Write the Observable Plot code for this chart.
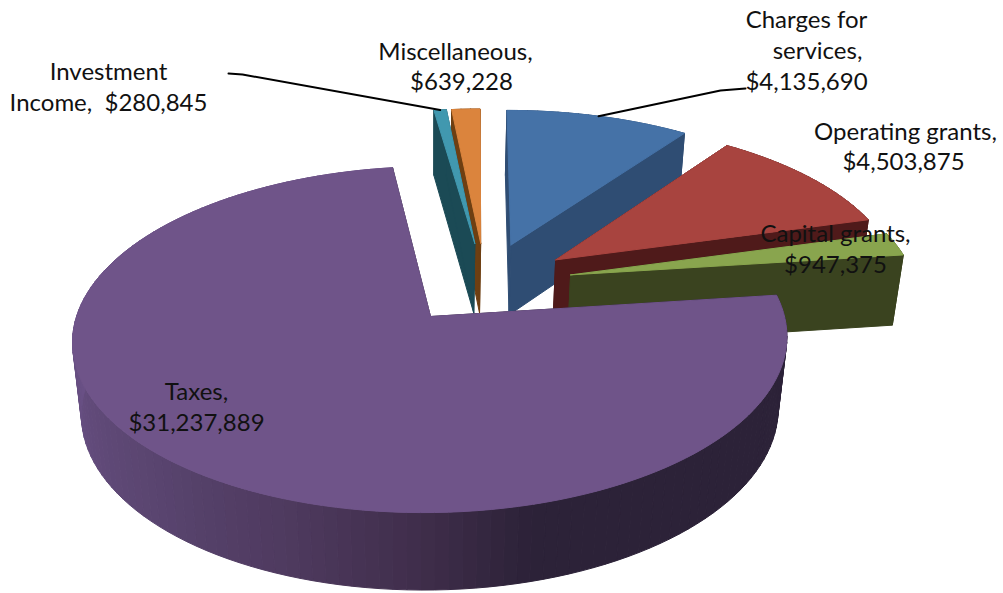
<!DOCTYPE html>
<html>
<head>
<meta charset="utf-8">
<script src="https://cdn.jsdelivr.net/npm/d3@7"></script>
<script src="https://cdn.jsdelivr.net/npm/@observablehq/plot@0.6"></script>
<style>html,body{margin:0;padding:0;background:#fff}svg{display:block}</style>
</head>
<body>
<div id="chart"></div>
<script>
// Chart data, clockwise from twelve o'clock
const categories = ["Charges for services", "Operating grants", "Capital grants", "Taxes", "Investment Income", "Miscellaneous"];
const amounts = [4135690, 4503875, 947375, 31237889, 280845, 639228];
const topColors = ["#4572A7", "#A8443F", "#89A54E", "#6F5489", "#4198AF", "#DB843D"];
const wallColors = ["#2F4D73", "#4F1A1A", "#3A431F", "#2C2238", "#1B4A55", "#6E3F12"];
const drawOrder = ["Miscellaneous", "Investment Income", "Charges for services", "Operating grants", "Capital grants", "Taxes"];

// Label text and placement
const labelLines = [
  ["Charges for", 806, 20], ["services,", 817, 51], ["$4,135,690", 806, 82],
  ["Operating grants,", 905, 132], ["$4,503,875", 903, 162],
  ["Capital grants,", 835, 234], ["$947,375", 835, 265],
  ["Taxes,", 196, 392], ["$31,237,889", 196, 423],
  ["Investment", 108, 72], ["Income,  $280,845", 108, 103],
  ["Miscellaneous,", 455, 52], ["$639,228", 461, 82]
];
const leaderEnds = {
  "Charges for services": [[720, 90], [745, 88]],
  "Investment Income": [[242, 74], [228, 73]]
};

// Perspective view of the pie plane
const view = {x0: 430, y0: 316, a: 354, b: 170, skew: 6, k: 0.133, depthK: 0.025, drop: 74};
const explode = 0.255;
const taxesMid = 217.4 * Math.PI / 180;
const hub = [-explode * Math.sin(taxesMid), -explode * Math.cos(taxesMid)];

function project(x, z, level) {
  const w = 1 + view.k * z + view.depthK * level;
  return {
    x: view.x0 + (view.a * x + view.skew * z) / w,
    y: view.y0 + (-view.b * z + view.drop * level) / w
  };
}

const arcs = d3.pie().sort(null).value(d => d)(amounts);
const slices = categories.map((name, i) => {
  const a0 = arcs[i].startAngle, a1 = arcs[i].endAngle, mid = (a0 + a1) / 2;
  return {
    name, a0, a1, mid,
    top: topColors[i], wall: wallColors[i],
    ax: hub[0] + explode * Math.sin(mid),
    az: hub[1] + explode * Math.cos(mid)
  };
});

const sideShade = d3.scaleLinear()
  .domain([60, 165, 180, 200, 225, 270, 360])
  .range(["#2C2238", "#2C2238", "#3F2D4A", "#4E3A5F", "#5A4570", "#6A5186", "#6A5186"])
  .interpolate(d3.interpolateRgb);

function rim(s, theta, level) {
  return project(s.ax + Math.sin(theta), s.az + Math.cos(theta), level);
}

const rows = [];
let nextId = 0;
function face(points, color) {
  const id = nextId++;
  [...points, points[0]].forEach(p => rows.push({id, color, x: p.x, y: p.y}));
}

for (const name of drawOrder) {
  const s = slices.find(d => d.name === name);
  const steps = Math.max(2, Math.ceil((s.a1 - s.a0) * 180 / Math.PI / 2));
  const thetas = d3.range(steps + 1).map(i => s.a0 + (s.a1 - s.a0) * i / steps);
  // outer wall
  for (let i = 0; i < steps; i++) {
    const deg = (thetas[i] + thetas[i + 1]) / 2 * 180 / Math.PI;
    const color = s.name === "Taxes" ? sideShade(deg) : s.wall;
    face([rim(s, thetas[i], 0), rim(s, thetas[i + 1], 0), rim(s, thetas[i + 1], 1), rim(s, thetas[i], 1)], color);
  }
  // cut faces
  for (const t of [s.a0, s.a1]) {
    face([project(s.ax, s.az, 0), rim(s, t, 0), rim(s, t, 1), project(s.ax, s.az, 1)], s.wall);
  }
  // top face
  face([project(s.ax, s.az, 0), ...thetas.map(t => rim(s, t, 0))], s.top);
}

const leaders = [];
for (const [name, ends] of Object.entries(leaderEnds)) {
  const s = slices.find(d => d.name === name);
  const start = rim(s, s.mid, 0);
  [[start.x, start.y], ...ends].forEach(p => leaders.push({name, x: p[0], y: p[1]}));
}

const plot = Plot.plot({
  width: 1003,
  height: 593,
  margin: 0,
  x: {domain: [0, 1003], range: [0, 1003], axis: null},
  y: {domain: [0, 593], range: [0, 593], axis: null},
  color: {type: "identity"},
  style: {background: "#fff", fontFamily: "Lato, Carlito, sans-serif"},
  marks: [
    Plot.line(rows, {x: "x", y: "y", z: "id", fill: "color", stroke: "color", strokeWidth: 1, strokeLinejoin: "round"}),
    Plot.line(leaders, {x: "x", y: "y", z: "name", stroke: "#000", strokeWidth: 2}),
    Plot.text(labelLines, {x: d => d[1], y: d => d[2], text: d => d[0], fontSize: 24, fill: "#111", textAnchor: "middle"})
  ]
});
document.getElementById("chart").appendChild(plot);
</script>
</body>
</html>
